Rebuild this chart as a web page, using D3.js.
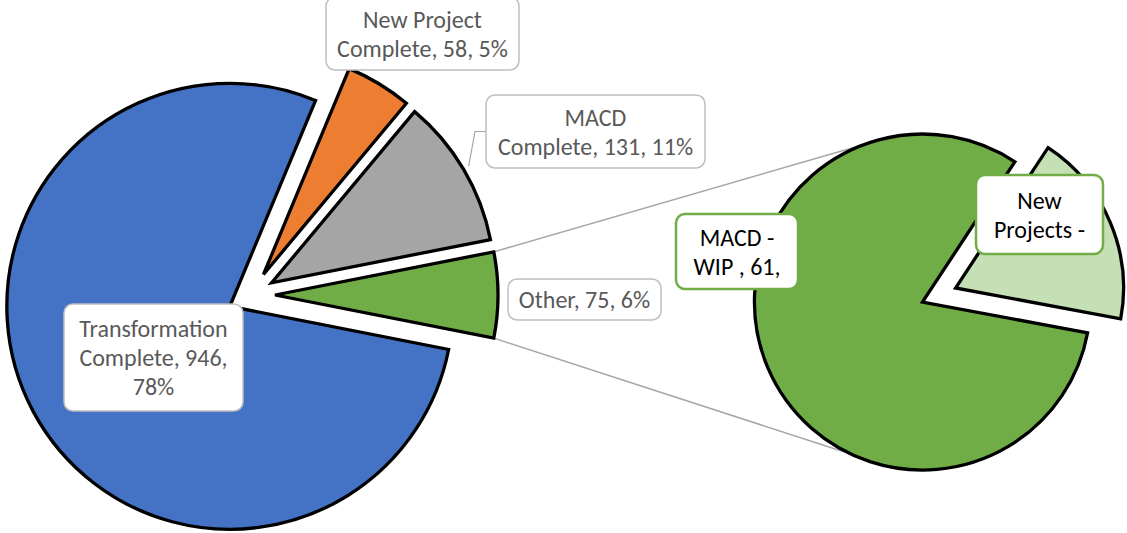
<!DOCTYPE html>
<html>
<head>
<meta charset="utf-8">
<script src="https://cdn.jsdelivr.net/npm/d3@7"></script>
<style>
    body { margin: 0; background: #ffffff; }
    svg { display: block; }
</style>
</head>
<body>
<div id="chart"></div>
<script>

// main pie
const mainCategories = ["Transformation Complete", "New Project Complete", "MACD Complete", "Other"]
const mainValues = [946, 58, 131, 75]
const mainColours = ["#4472c4", "#ed7d31", "#a5a5a5", "#70ad47"]

// how excel wrapped each main label
const mainLabelLines = [
    (v, p) => ["Transformation", `Complete, ${v},`, p],
    (v, p) => ["New Project", `Complete, ${v}, ${p}`],
    (v, p) => ["MACD", `Complete, ${v}, ${p}`],
    (v, p) => [`Other, ${v}, ${p}`]
]

// the "Other" slice, split out into the second pie
const splitCategories = ["MACD - WIP ", "New Projects - WIP"]
const splitValues = [61, 14]
const splitColours = ["#70ad47", "#c5e0b4"]
const splitLabelLines = [
    ["MACD -", "WIP , 61,"],
    ["New", "Projects -"]
]

var width = 1127,
    height = 533

var main = { cx: 251, cy: 295, r: 223, explode: 24 }
var split = { cx: 939, cy: 295, r: 168, explode: 18, start: 100.6 * Math.PI / 180 }

// label boxes (centre, size)
var mainBoxes = [
    { cx: 153.5, cy: 357.5, w: 179, h: 107 },
    { cx: 422.5, cy: 33.5, w: 193, h: 73 },
    { cx: 595.5, cy: 131.5, w: 219, h: 73 },
    { cx: 584.5, cy: 299.5, w: 153, h: 41 }
]
var splitBoxes = [
    { cx: 737, cy: 251.5, w: 122, h: 75 },
    { cx: 1039.5, cy: 214.5, w: 127, h: 79 }
]

var lineHeight = 29

var svg = d3.select("#chart").append("svg")
    .attr("width", width)
    .attr("height", height)
    .style("font-family", "Carlito, Calibri, Lato, sans-serif")

var total = d3.sum(mainValues)

var otherShare = mainValues[mainValues.length - 1] / total

// rotate so the Other slice faces the second pie (3 o'clock)
var mainStart = Math.PI / 2 + Math.PI * otherShare

var mainPie = d3.pie().sort(null)
    .startAngle(mainStart)
    .endAngle(mainStart + 2 * Math.PI)

var splitPie = d3.pie().sort(null)
    .startAngle(split.start)
    .endAngle(split.start + 2 * Math.PI)

var mainArcs = mainPie(mainValues)
var splitArcs = splitPie(splitValues)

var mainArc = d3.arc().innerRadius(0).outerRadius(main.r)
var splitArc = d3.arc().innerRadius(0).outerRadius(split.r)

function offset(d, e) {
    var mid = (d.startAngle + d.endAngle) / 2
    return [e * Math.sin(mid), -e * Math.cos(mid)]
}

function polar(c, r, a) {
    return [c[0] + r * Math.sin(a), c[1] - r * Math.cos(a)]
}

// series lines from the Other slice to the second pie
var other = mainArcs[mainArcs.length - 1]
var otherShift = offset(other, main.explode)
var otherCentre = [main.cx + otherShift[0], main.cy + otherShift[1]]

var bigSplit = splitArcs[0]
var bigShift = offset(bigSplit, split.explode)
var bigCentre = [split.cx + bigShift[0], split.cy + bigShift[1]]

var seriesLines = [
    [polar(otherCentre, main.r, other.startAngle), polar(bigCentre, split.r, -20 * Math.PI / 180)],
    [polar(otherCentre, main.r, other.endAngle), polar(bigCentre, split.r, 205 * Math.PI / 180)]
]

svg.selectAll(".series-line")
    .data(seriesLines)
    .enter()
    .append("line")
    .attr("class", "series-line")
    .attr("x1", d => d[0][0])
    .attr("y1", d => d[0][1])
    .attr("x2", d => d[1][0])
    .attr("y2", d => d[1][1])
    .attr("stroke", "#a6a6a6")
    .attr("stroke-width", 1.5)

// slices
svg.append("g")
    .selectAll("path")
    .data(mainArcs)
    .enter()
    .append("path")
    .attr("transform", d => {
        var o = offset(d, main.explode)
        return `translate(${main.cx + o[0]},${main.cy + o[1]})`
    })
    .attr("d", mainArc)
    .attr("fill", (d, i) => mainColours[i])
    .attr("stroke", "#000000")
    .attr("stroke-width", 3.3)

svg.append("g")
    .selectAll("path")
    .data(splitArcs)
    .enter()
    .append("path")
    .attr("transform", d => {
        var o = offset(d, split.explode)
        return `translate(${split.cx + o[0]},${split.cy + o[1]})`
    })
    .attr("d", splitArc)
    .attr("fill", (d, i) => splitColours[i])
    .attr("stroke", "#000000")
    .attr("stroke-width", 3.3)

// leader line for the MACD Complete label
var macd = mainArcs[2]
var macdShift = offset(macd, main.explode)
var macdStart = polar([main.cx + macdShift[0], main.cy + macdShift[1]], main.r + 6, (macd.startAngle + macd.endAngle) / 2)
var macdBox = mainBoxes[2]
var macdLeft = macdBox.cx - macdBox.w / 2

svg.append("path")
    .attr("d", d3.line()([macdStart, [macdLeft - 11, macdBox.cy], [macdLeft, macdBox.cy]]))
    .attr("fill", "none")
    .attr("stroke", "#a6a6a6")
    .attr("stroke-width", 1.2)

function drawLabel(box, lines, stroke, strokeWidth, colour) {

    var g = svg.append("g")

    g.append("rect")
        .attr("x", box.cx - box.w / 2)
        .attr("y", box.cy - box.h / 2)
        .attr("width", box.w)
        .attr("height", box.h)
        .attr("rx", 9)
        .attr("fill", "#ffffff")
        .attr("stroke", stroke)
        .attr("stroke-width", strokeWidth)

    g.selectAll("text")
        .data(lines)
        .enter()
        .append("text")
        .attr("x", box.cx)
        .attr("y", (d, i) => box.cy + (i - (lines.length - 1) / 2) * lineHeight + 8.5)
        .attr("text-anchor", "middle")
        .attr("font-size", "24px")
        .attr("fill", colour)
        .text(d => d)

}

mainArcs.forEach((d, i) => {
    var pct = Math.round(d.value / total * 100) + "%"
    drawLabel(mainBoxes[i], mainLabelLines[i](d.value, pct), "#bfbfbf", 1.5, "#595959")
})

splitArcs.forEach((d, i) => {
    drawLabel(splitBoxes[i], splitLabelLines[i], "#70ad47", 2.5, "#000000")
})

</script>
</body>
</html>
